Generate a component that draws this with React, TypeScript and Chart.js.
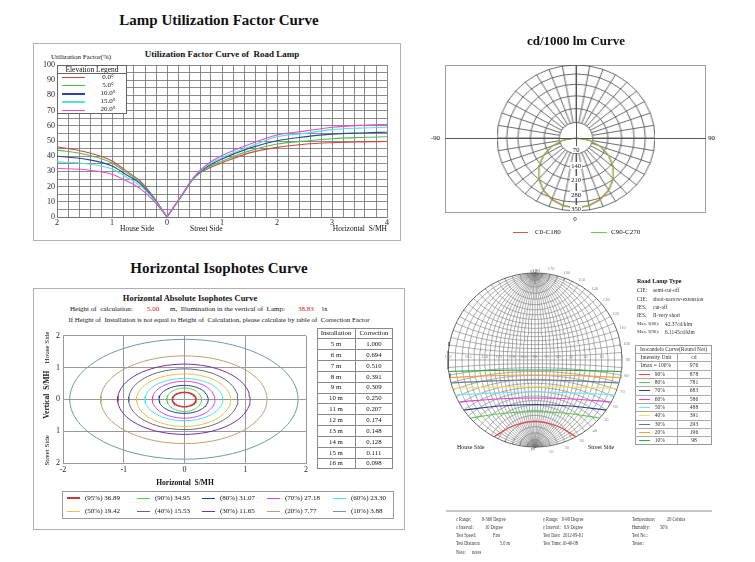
import React, { useEffect, useRef } from "react";
import { Chart, registerables } from "chart.js";
Chart.register(...registerables);

const SERIF = "'Liberation Serif', 'Times New Roman', serif";

// ---------------- Lamp utilization factor ----------------
const ufElevations = ["0.0°", "5.0°", "10.0°", "15.0°", "20.0°"];
const ufColors = ["#d64545", "#4cc24c", "#33449e", "#55e0dc", "#e052d2"];
const ufHouseX = [-2, -1.5, -1, -0.75, -0.5, -0.25, 0];
const ufStreetX = [0, 0.25, 0.5, 0.75, 1, 1.5, 2, 2.5, 3, 3.5, 4];
const ufHouse0 = [46.2, 42.9, 36.9, 30.5, 24.0, 13.5, 0];
const ufHouse5 = [44.0, 41.3, 35.6, 29.5, 23.3, 13.0, 0];
const ufHouse10 = [40.0, 38.2, 33.6, 28.0, 22.3, 12.5, 0];
const ufHouse15 = [36.3, 35.2, 31.6, 26.5, 21.0, 12.0, 0];
const ufHouse20 = [31.9, 31.2, 28.1, 24.0, 19.0, 11.0, 0];
const ufStreet0 = [0, 13.0, 26.0, 31.9, 35.6, 42.2, 45.8, 47.9, 48.9, 49.4, 49.7];
const ufStreet5 = [0, 13.0, 26.0, 32.6, 36.7, 43.5, 48.0, 49.9, 51.5, 52.3, 52.8];
const ufStreet10 = [0, 13.3, 26.3, 33.5, 38.2, 45.3, 50.2, 52.7, 54.5, 55.3, 55.8];
const ufStreet15 = [0, 13.4, 26.5, 34.3, 39.1, 46.2, 52.8, 55.0, 57.5, 58.5, 59.0];
const ufStreet20 = [0, 13.5, 26.8, 35.2, 40.4, 47.9, 54.0, 56.5, 59.0, 60.3, 61.0];

// ---------------- cd/1000 lm polar ----------------
const polarAngles = [0, 10, 20, 30, 40, 50, 60, 70, 80, 90, 100, 110, 120, 130, 140, 150, 160, 170, 180, -170, -160, -150, -140, -130, -120, -110, -100, -90, -80, -70, -60, -50, -40, -30, -20, -10];
const cdC0C180 = [343, 338, 322, 297, 263, 220, 171, 117, 59, 0, 0, 0, 0, 0, 0, 0, 0, 0, 0, 0, 0, 0, 0, 0, 0, 0, 0, 0, 59, 117, 171, 220, 263, 297, 322, 338];
const cdC90C270 = [346, 341, 325, 300, 265, 222, 173, 118, 60, 0, 0, 0, 0, 0, 0, 0, 0, 0, 0, 0, 0, 0, 0, 0, 0, 0, 0, 0, 60, 118, 173, 222, 265, 300, 325, 341];
const polarRings = [76, 145, 208, 265, 316, 360];
const polarRingLabels = ["70", "140", "210", "280", "350"];

// ---------------- Horizontal isophotes ----------------
const isoLabels = ["(95%) 36.89", "(90%) 34.95", "(80%) 31.07", "(70%) 27.18", "(60%) 23.30", "(50%) 19.42", "(40%) 15.53", "(30%) 11.65", "(20%) 7.77", "(10%) 3.88"];
const isoColors = ["#c23a3a", "#4fd24f", "#263a94", "#e044e0", "#48e2f0", "#f2bc4c", "#5f6a7c", "#7c2e98", "#bca072", "#6e9c9c"];
const isoRight = [0.19, 0.28, 0.39, 0.5, 0.63, 0.76, 0.88, 1.08, 1.36, 1.87];
const isoTop = [0.22, 0.36, 0.44, 0.57, 0.66, 0.8, 0.96, 1.11, 1.37, 1.89];
const isoLeft = [0.2, 0.29, 0.42, 0.53, 0.65, 0.79, 0.92, 1.1, 1.38, 1.89];
const isoBottom = [0.23, 0.38, 0.44, 0.59, 0.67, 0.85, 0.95, 1.1, 1.39, 1.88];
const corrHeights = ["5 m", "6 m", "7 m", "8 m", "9 m", "10 m", "11 m", "12 m", "13 m", "14 m", "15 m", "16 m"];
const corrFactors = ["1.000", "0.694", "0.510", "0.391", "0.309", "0.250", "0.207", "0.174", "0.148", "0.128", "0.111", "0.098"];

// ---------------- Isocandela round net ----------------
const isocPercents = ["90%", "80%", "70%", "60%", "50%", "40%", "30%", "20%", "10%"];
const isocCd = ["878", "781", "683", "586", "488", "391", "293", "196", "98"];
const isocColors = ["#e24848", "#58cc58", "#2c3c8c", "#dc44d0", "#7ae4f2", "#f0e070", "#66788a", "#f0a43a", "#3aa64a"];
const isocX = [
  [-41, -22, 0, 22, 41],
  [-64.6, -34, 0, 34, 64.6],
  [-71, -36, 0, 36, 71],
  [-76, -38, 0, 38, 76],
  [-79.7, -40, 0, 40, 79.7],
  [-82.3, -41, 0, 41, 82.3],
  [-83.9, -42, 0, 42, 83.9],
  [-85.2, -43, 0, 43, 85.2],
  [-86.2, -43, 0, 43, 86.2],
];
const isocY = [
  [-76.7, -66, -61.7, -66, -76.7],
  [-58, -53.5, -51.7, -53.5, -58],
  [-50, -46, -44.5, -46, -50],
  [-42, -39, -38, -39, -42],
  [-35, -32.8, -32, -32.8, -35],
  [-28.3, -27.2, -26.7, -27.2, -28.3],
  [-23, -20.8, -20, -20.8, -23],
  [-17.5, -15.6, -15, -15.6, -17.5],
  [-11.5, -10.4, -10, -10.4, -11.5],
];
const netRimLabels = [10, 20, 30, 40, 50, 60, 70, 80, 90, 100, 110, 120, 130, 140, 150, 160, 170];
const netEquatorLabels = ["180", "165", "150", "135", "120", "105", "90", "75", "60", "45", "30", "15", "0"];

const R = 87; // net radius in chart units (px)
const NET_STEP = 5;

function smallCircle(g: number) {
  const gr = (g * Math.PI) / 180;
  const yc = -R / Math.cos(gr);
  const r = R * Math.tan(gr);
  const pts: any[] = [];
  const n = 40;
  for (let k = 0; k <= n; k++) {
    const t = gr + ((Math.PI - 2 * gr) * k) / n;
    pts.push({ x: r * Math.cos(t), y: yc + r * Math.sin(t) });
  }
  return pts;
}
function greatCircle(a: number, sign: number) {
  const x0 = R * Math.tan((a * Math.PI) / 360);
  const c = (x0 * x0 - R * R) / (2 * x0);
  const rho = x0 - c;
  const tp = Math.atan2(R, -c);
  const pts: any[] = [];
  const n = 48;
  for (let k = 0; k <= n; k++) {
    const t = -tp + (2 * tp * k) / n;
    pts.push({ x: sign * (c + rho * Math.cos(t)), y: rho * Math.sin(t) });
  }
  return pts;
}

function ChartCanvas({ left, top, width, height, make, style }: any) {
  const ref = useRef<HTMLCanvasElement | null>(null);
  useEffect(() => {
    if (!ref.current) return;
    const chart = new Chart(ref.current, make());
    return () => chart.destroy();
  }, []);
  return (
    <div style={{ position: "absolute", left, top, width, height, ...(style || {}) }}>
      <canvas ref={ref} />
    </div>
  );
}

function Txt({ x, y, s = 7, b = false, c = "#111", a = "left", children, style }: any) {
  const st: any = {
    position: "absolute",
    top: y - s * 0.62,
    fontSize: s,
    lineHeight: `${s * 1.24}px`,
    fontWeight: b ? "bold" : "normal",
    color: c,
    whiteSpace: "pre",
    fontFamily: SERIF,
    ...(style || {}),
  };
  if (a === "left") st.left = x;
  else if (a === "right") st.right = 755 - x;
  else {
    st.left = x - 200;
    st.width = 400;
    st.textAlign = "center";
  }
  return <div style={st}>{children}</div>;
}

function VTxt({ x, y, s = 7, b = false, children }: any) {
  return (
    <div
      style={{
        position: "absolute",
        left: x - 60,
        width: 120,
        top: y - s * 0.62,
        fontSize: s,
        lineHeight: `${s * 1.24}px`,
        textAlign: "center",
        fontWeight: b ? "bold" : "normal",
        fontFamily: SERIF,
        color: "#111",
        whiteSpace: "pre",
        transform: "rotate(-90deg)",
      }}
    >
      {children}
    </div>
  );
}

function Box({ l, t, w, h, c = "#aaa", bw = 1, bg, z }: any) {
  return <div style={{ position: "absolute", left: l, top: t, width: w, height: h, border: `${bw}px solid ${c}`, boxSizing: "border-box", background: bg, zIndex: z }} />;
}
function HLine({ x1, x2, y, c = "#444", w = 1, z }: any) {
  return <div style={{ position: "absolute", left: x1, top: y - w / 2, width: x2 - x1, height: w, background: c, zIndex: z }} />;
}
function VLine({ x, y1, y2, c = "#444", w = 1, z }: any) {
  return <div style={{ position: "absolute", left: x - w / 2, top: y1, width: w, height: y2 - y1, background: c, zIndex: z }} />;
}

const tickFont = { family: SERIF, size: 8 };

function makeUF() {
  const house = [ufHouse0, ufHouse5, ufHouse10, ufHouse15, ufHouse20];
  const street = [ufStreet0, ufStreet5, ufStreet10, ufStreet15, ufStreet20];
  const datasets: any[] = [];
  for (let i = ufElevations.length - 1; i >= 0; i--) {
    const common = { label: ufElevations[i], borderColor: ufColors[i], borderWidth: 1.1, pointRadius: 0, showLine: true, cubicInterpolationMode: "monotone", fill: false };
    datasets.push({ ...common, data: ufHouseX.map((x, k) => ({ x, y: house[i][k] })) });
    datasets.push({ ...common, data: ufStreetX.map((x, k) => ({ x, y: street[i][k] })) });
  }
  return {
    type: "scatter",
    data: { datasets },
    options: {
      animation: false,
      responsive: true,
      maintainAspectRatio: false,
      layout: { padding: { top: 22, right: 13, left: 0, bottom: 0 } },
      plugins: { legend: { display: false }, tooltip: { enabled: false } },
      scales: {
        x: {
          type: "linear",
          min: -2,
          max: 4,
          afterFit: (s: any) => { s.height = 23; },
          ticks: {
            stepSize: 0.2,
            autoSkip: false,
            maxRotation: 0,
            padding: 1,
            color: "#222",
            font: tickFont,
            callback: (v: number) => {
              const r = Math.round(v * 10) / 10;
              return Number.isInteger(r) ? String(Math.abs(r)) : "";
            },
          },
          grid: { color: "#6e6e6e", lineWidth: 0.8, drawTicks: false },
          border: { color: "#6e6e6e", width: 0.8 },
        },
        y: {
          min: 0,
          max: 100,
          afterFit: (s: any) => { s.width = 24; },
          ticks: {
            stepSize: 5,
            autoSkip: false,
            padding: 2,
            color: "#222",
            font: tickFont,
            callback: (v: number) => (Math.round(v) % 10 === 0 ? String(Math.round(v)) : ""),
          },
          grid: { color: "#6e6e6e", lineWidth: 0.8, drawTicks: false },
          border: { color: "#6e6e6e", width: 0.8 },
        },
      },
    },
  };
}

function makePolar() {
  const ringSets = polarRings.map((v, i) => ({
    data: polarAngles.map(() => v),
    borderColor: "#4a4a4a",
    borderWidth: 0.8,
    pointRadius: 0,
    fill: i === 0,
    backgroundColor: "#ffffff",
  }));
  return {
    type: "radar",
    data: {
      labels: polarAngles.map((a) => String(a)),
      datasets: [
        { data: cdC90C270, borderColor: "#6ccc44", borderWidth: 1, pointRadius: 0, fill: false },
        { data: cdC0C180, borderColor: "#d65a4a", borderWidth: 1.2, pointRadius: 0, fill: false },
        ...ringSets,
      ],
    },
    options: {
      animation: false,
      responsive: true,
      maintainAspectRatio: false,
      layout: { padding: 0 },
      plugins: { legend: { display: false }, tooltip: { enabled: false } },
      scales: {
        r: {
          min: 0,
          max: 360,
          startAngle: 180,
          ticks: { display: false },
          grid: { display: false },
          angleLines: { display: true, color: "#4a4a4a", lineWidth: 0.8 },
          pointLabels: { display: false },
        },
      },
    },
  };
}

function makeIso() {
  const datasets = isoLabels.map((lab, i) => {
    const pts: any[] = [];
    for (let d = 0; d <= 360; d += 5) {
      const t = (d * Math.PI) / 180;
      const c = Math.cos(t), s = Math.sin(t);
      pts.push({ x: (c >= 0 ? isoRight[i] : isoLeft[i]) * c, y: (s >= 0 ? isoTop[i] : isoBottom[i]) * s });
    }
    return { label: lab, data: pts, borderColor: isoColors[i], borderWidth: i === 0 ? 1.6 : 1, pointRadius: 0, showLine: true, tension: 0 };
  });
  const axisCommon = {
    min: -2,
    max: 2,
    grid: { color: "#9a9a9a", lineWidth: 1, drawTicks: false },
    border: { color: "#9a9a9a" },
  };
  return {
    type: "scatter",
    data: { datasets },
    options: {
      animation: false,
      responsive: true,
      maintainAspectRatio: false,
      layout: { padding: { top: 5, right: 6, left: 0, bottom: 0 } },
      plugins: { legend: { display: false }, tooltip: { enabled: false } },
      scales: {
        x: { ...axisCommon, afterFit: (s: any) => { s.height = 15; }, ticks: { stepSize: 1, padding: 2, color: "#222", font: tickFont, callback: (v: number) => String(v) } },
        y: { ...axisCommon, afterFit: (s: any) => { s.width = 15; }, ticks: { stepSize: 1, padding: 3, color: "#222", font: tickFont, callback: (v: number) => String(Math.abs(v)) } },
      },
    },
  };
}

function makeNet() {
  const grid: any[] = [];
  const gs = { borderColor: "#7a7a7a", borderWidth: 0.6, pointRadius: 0, showLine: true, tension: 0 };
  for (let g = NET_STEP; g < 90; g += NET_STEP) {
    const pts = smallCircle(g);
    grid.push({ ...gs, data: pts });
    grid.push({ ...gs, data: pts.map((p: any) => ({ x: p.x, y: -p.y })) });
  }
  grid.push({ ...gs, data: [{ x: -R, y: 0 }, { x: R, y: 0 }] });
  grid.push({ ...gs, data: [{ x: 0, y: -R }, { x: 0, y: R }] });
  for (let a = NET_STEP; a < 90; a += NET_STEP) {
    grid.push({ ...gs, data: greatCircle(a, 1) });
    grid.push({ ...gs, data: greatCircle(a, -1) });
  }
  const rim: any[] = [];
  for (let d = 0; d <= 360; d += 3) {
    const t = (d * Math.PI) / 180;
    rim.push({ x: R * Math.cos(t), y: R * Math.sin(t) });
  }
  const iso = isocPercents.map((p, i) => ({
    label: p,
    data: isocX[i].map((x, k) => ({ x, y: isocY[i][k] })),
    borderColor: isocColors[i],
    borderWidth: 1.2,
    pointRadius: 0,
    showLine: true,
    cubicInterpolationMode: "monotone",
  }));
  return {
    type: "scatter",
    data: { datasets: [...iso, { ...gs, borderColor: "#555", borderWidth: 0.9, data: rim }, ...grid] },
    options: {
      animation: false,
      responsive: true,
      maintainAspectRatio: false,
      layout: { padding: 0 },
      plugins: { legend: { display: false }, tooltip: { enabled: false } },
      scales: {
        x: { type: "linear", min: -90, max: 90, display: false },
        y: { type: "linear", min: -90, max: 90, display: false },
      },
    },
  };
}

export default function App() {
  const rowH = 141 / 13;
  const netRowH = 100 / 12;
  const cx = 535, cy = 360;
  const narrow = { transform: "scaleX(0.72)", transformOrigin: "0 50%" };
  return (
    <div style={{ position: "absolute", left: 0, top: 0, width: 755, height: 562, background: "#fff", overflow: "hidden", fontFamily: SERIF, color: "#111" }}>
      {/* ========== Utilization factor ========== */}
      <Txt x={219} y={20} s={15} b a="center">Lamp Utilization Factor Curve</Txt>
      <Box l={33} t={43} w={368} h={198} c="#b0b0b0" />
      <Txt x={51} y={57} s={7}>Utilization Factor(%)</Txt>
      <Txt x={222} y={55} s={9} b a="center">{"Utilization Factor Curve of  Road Lamp"}</Txt>
      <ChartCanvas left={33} top={43} width={367} height={197} make={makeUF} />
      <div style={{ position: "absolute", left: 57, top: 65, width: 70, height: 49, border: "1px solid #666", boxSizing: "border-box", background: "#fff", zIndex: 2 }} />
      <Txt x={92} y={69.5} s={7.5} a="center" style={{ zIndex: 3 }}>Elevation Legend</Txt>
      <HLine x1={57} x2={127} y={73.5} c="#666" w={0.8} z={3} />
      {ufElevations.map((e, i) => (
        <React.Fragment key={e}>
          <HLine x1={62} x2={85} y={77.5 + i * 8.2} c={ufColors[i]} w={1.4} z={3} />
          <Txt x={108} y={77 + i * 8.2} s={7} a="center" style={{ zIndex: 3 }}>{e}</Txt>
        </React.Fragment>
      ))}
      <Txt x={120} y={229} s={7.5}>House Side</Txt>
      <Txt x={190} y={229} s={7.5}>Street Side</Txt>
      <Txt x={387} y={229} s={7.5} a="right">{"Horizontal  S/MH"}</Txt>

      {/* ========== cd/1000 lm ========== */}
      <Txt x={576} y={41} s={13} b a="center">cd/1000 lm Curve</Txt>
      <Box l={445} t={65} w={261} h={148} c="#a0a0a0" />
      <ChartCanvas left={503} top={65} width={146} height={146} make={makePolar} style={{ transform: "scaleX(1.082)", transformOrigin: "50% 50%" }} />
      <HLine x1={445} x2={706} y={138.5} c="#555" w={0.8} z={2} />
      <VLine x={576} y1={65} y2={212} c="#555" w={0.8} z={2} />
      {polarRingLabels.map((l, i) => (
        <Txt key={l} x={576} y={[150, 166, 180.5, 195, 209][i]} s={6.5} a="center" style={{ zIndex: 3 }}>
          <span style={{ background: "#fff", padding: "0 1px" }}>{l}</span>
        </Txt>
      ))}
      <Txt x={440} y={138} s={7} a="right">-90</Txt>
      <Txt x={708} y={138} s={7}>90</Txt>
      <Txt x={575} y={219} s={7} a="center">0</Txt>
      <HLine x1={513} x2={528} y={232.5} c="#d65a4a" w={1} />
      <Txt x={535} y={232} s={7}>C0-C180</Txt>
      <HLine x1={591} x2={607} y={232.5} c="#6ccc44" w={1} />
      <Txt x={611} y={232} s={7}>C90-C270</Txt>

      {/* ========== Horizontal isophotes ========== */}
      <Txt x={219} y={268} s={15} b a="center">Horizontal Isophotes Curve</Txt>
      <Box l={33} t={288} w={372} h={242} c="#b0b0b0" />
      <Txt x={190} y={298} s={8.5} b a="center">Horizontal Absolute Isophotes Curve</Txt>
      <Txt x={70} y={309} s={7}>{"Height of  calculation:"}</Txt>
      <Txt x={147} y={309} s={7} c="#e02020">5.00</Txt>
      <Txt x={170} y={309} s={7}>{"m,  Illumination in the vertical of  Lamp:"}</Txt>
      <Txt x={298} y={309} s={7} c="#e02020">38.83</Txt>
      <Txt x={322} y={309} s={7}>lx</Txt>
      <Txt x={219} y={320.5} s={6.9} a="center">{"If Height of  Installation is not equal to Height of  Calculation, please calculate by table of  Correction Factor"}</Txt>
      <ChartCanvas left={48} top={328} width={264} height={150} make={makeIso} />
      <VTxt x={47} y={347} s={7}>House Side</VTxt>
      <VTxt x={47} y={395} s={7.5} b>{"Vertical  S/MH"}</VTxt>
      <VTxt x={47} y={450} s={7}>Street Side</VTxt>
      <Txt x={185} y={483} s={7.5} b a="center">{"Horizontal  S/MH"}</Txt>
      <div style={{ position: "absolute", left: 317, top: 328, width: 76, height: 141, border: "1px solid #8a8a8a", boxSizing: "border-box" }} />
      <VLine x={355} y1={328} y2={469} c="#8a8a8a" w={1} />
      {Array.from({ length: 12 }).map((_, i) => (
        <HLine key={i} x1={317} x2={393} y={328 + (i + 1) * rowH} c="#8a8a8a" w={1} />
      ))}
      <Txt x={336} y={328 + rowH / 2} s={6.8} a="center">Installation</Txt>
      <Txt x={374} y={328 + rowH / 2} s={6.8} a="center">Correction</Txt>
      {corrHeights.map((h, i) => (
        <React.Fragment key={h}>
          <Txt x={336} y={328 + rowH * (i + 1.5)} s={6.8} a="center">{h}</Txt>
          <Txt x={374} y={328 + rowH * (i + 1.5)} s={6.8} a="center">{corrFactors[i]}</Txt>
        </React.Fragment>
      ))}
      <Box l={62} t={491} w={332} h={28} c="#9a9a9a" />
      {isoLabels.map((lab, i) => {
        const col = i % 5, row = Math.floor(i / 5);
        const x = [67, 137, 202, 267, 333][col];
        const y = row === 0 ? 498 : 511.5;
        return (
          <React.Fragment key={lab}>
            <HLine x1={x} x2={x + 13} y={y} c={isoColors[i]} w={i === 0 ? 2 : 1} />
            <Txt x={x + 18} y={y} s={7}>{lab}</Txt>
          </React.Fragment>
        );
      })}

      {/* ========== Isocandela round net ========== */}
      <ChartCanvas left={445} top={270} width={180} height={180} make={makeNet} />
      <Txt x={cx} y={271} s={5} c="#555" a="center">γ180</Txt>
      <Txt x={cx - 2} y={449.5} s={5} c="#555" a="center">γ0</Txt>
      {netRimLabels.map((g) => {
        const t = (g * Math.PI) / 180;
        const rr = R + 6;
        return (
          <Txt key={g} x={cx + rr * Math.sin(t)} y={cy + rr * Math.cos(t)} s={4.6} c="#888" a="center">{String(g)}</Txt>
        );
      })}
      {netEquatorLabels.map((l, i) => {
        const a = -90 + i * 15;
        const x = cx + R * Math.tan((a * Math.PI) / 360);
        return (
          <Txt key={l} x={x} y={356.5} s={4.6} c="#888" a="center">{l}</Txt>
        );
      })}
      <Txt x={457} y={448} s={6}>House Side</Txt>
      <Txt x={588} y={448} s={6}>Street Side</Txt>

      <Txt x={637} y={281.7} s={6} b>Road Lamp Type</Txt>
      {[
        ["CIE:", "semi-cut-off", 653],
        ["CIE:", "short-narrow-extension", 653],
        ["IES:", "cut-off", 653],
        ["IES:", "II-very short", 653],
        ["Max. I(80):", "42.37cd/klm", 665],
        ["Max. I(90):", "6.1145cd/klm", 665],
      ].map((r: any, i) => (
        <React.Fragment key={i}>
          <Txt x={637} y={290.7 + i * 8.3} s={i >= 4 ? 4.8 : 5.4} c="#333">{r[0]}</Txt>
          <Txt x={r[2]} y={290.7 + i * 8.3} s={5.4} c="#333">{r[1]}</Txt>
        </React.Fragment>
      ))}
      <div style={{ position: "absolute", left: 635, top: 345, width: 77, height: 100, border: "1px solid #999", boxSizing: "border-box" }} />
      {Array.from({ length: 11 }).map((_, i) => (
        <HLine key={i} x1={635} x2={712} y={345 + (i + 1) * netRowH} c="#aaa" w={0.8} />
      ))}
      <VLine x={677} y1={345 + netRowH} y2={445} c="#aaa" w={0.8} />
      <Txt x={673.5} y={345 + netRowH * 0.5} s={5.6} c="#333" a="center">Isocandela Curve(Round Net)</Txt>
      <Txt x={656} y={345 + netRowH * 1.5} s={5.6} c="#333" a="center">Intensity Unit</Txt>
      <Txt x={694} y={345 + netRowH * 1.5} s={5.6} c="#333" a="center">cd</Txt>
      <Txt x={656} y={345 + netRowH * 2.5} s={5.6} c="#333" a="center">{"Imax = 100%"}</Txt>
      <Txt x={694} y={345 + netRowH * 2.5} s={5.6} c="#333" a="center">976</Txt>
      {isocPercents.map((p, i) => (
        <React.Fragment key={p}>
          <HLine x1={639} x2={650} y={345 + netRowH * (i + 3.5)} c={isocColors[i]} w={1.2} />
          <Txt x={665} y={345 + netRowH * (i + 3.5)} s={5.6} c="#333" a="right">{p}</Txt>
          <Txt x={694} y={345 + netRowH * (i + 3.5)} s={5.6} c="#333" a="center">{isocCd[i]}</Txt>
        </React.Fragment>
      ))}

      <HLine x1={446} x2={712} y={511} c="#c8c8c8" w={2} />
      {[
        [456, 520, "c Range:"], [481.7, 520, "0-360 Degree"],
        [456, 527.8, "c Interval:"], [485, 527.8, "10 Degree"],
        [456, 536, "Test Speed:"], [493, 536, "Fast"],
        [456, 544.2, "Test Distance:"], [500, 544.2, "5.0 m"],
        [456, 552.4, "Note:"], [472, 552.4, "notes"],
        [542.7, 520, "γ Range:"], [562, 520, "0-90 Degree"],
        [542.7, 527.8, "γ Interval:"], [564, 527.8, "0.9 Degree"],
        [542.7, 536, "Test Date:"], [563.3, 536, "2012-09-01"],
        [542.7, 544.2, "Test Time:"], [562, 544.2, "10-40-08"],
        [632.3, 520, "Temperature:"], [666.7, 520, "20 Celsius"],
        [632.3, 527.8, "Humidity:"], [660, 527.8, "50%"],
        [632.3, 536, "Test No.:"],
        [632.3, 544.2, "Tester:"],
      ].map((r: any, i) => (
        <Txt key={i} x={r[0]} y={r[1]} s={6} c="#333" style={narrow}>{r[2]}</Txt>
      ))}
    </div>
  );
}
